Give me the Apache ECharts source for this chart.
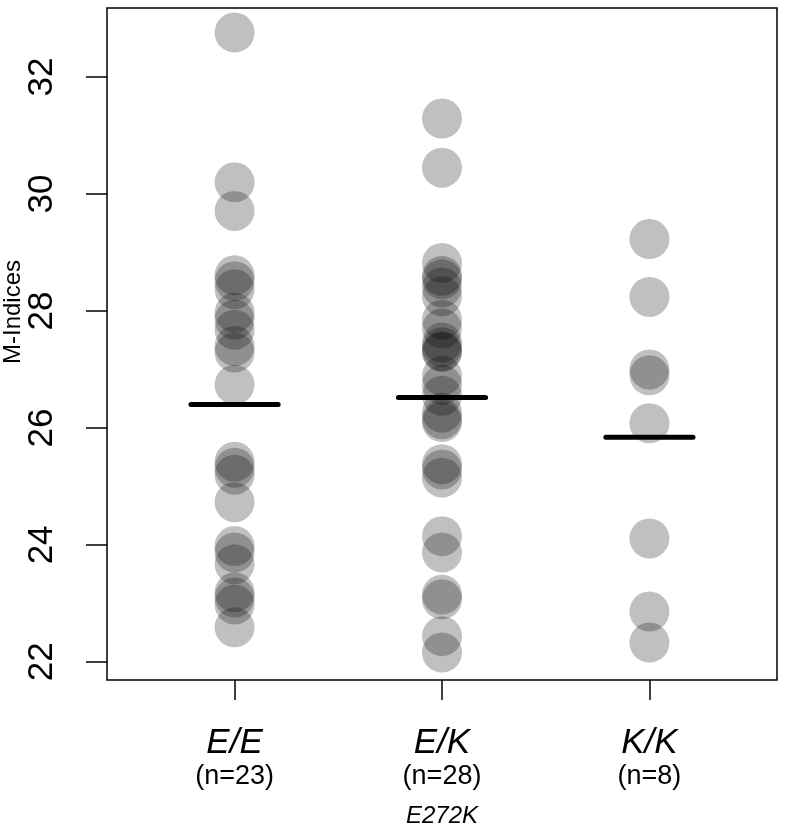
<!DOCTYPE html>
<html>
<head>
<meta charset="utf-8">
<script src="https://cdn.jsdelivr.net/npm/echarts@6/dist/echarts.min.js"></script>
<style>html,body{margin:0;padding:0;background:#fff}#c{width:785px;height:834px}</style>
</head>
<body>
<div id="c"></div>
<script>
const categories = ['E/E', 'E/K', 'K/K'];
const counts = ['(n=23)', '(n=28)', '(n=8)'];
const eeValues = [32.76, 30.20, 29.71, 28.61, 28.51, 28.37, 27.97, 27.85, 27.68, 27.40, 27.29, 26.74,
  25.42, 25.32, 25.20, 24.73, 23.98, 23.87, 23.67, 23.19, 23.10, 22.98, 22.59];
const ekValues = [31.29, 30.45, 28.82, 28.60, 28.54, 28.40, 28.25, 27.85, 27.70, 27.46, 27.38, 27.31, 27.30,
  26.89, 26.74, 26.55, 26.26, 26.15, 26.10, 25.38, 25.29, 25.15, 24.15, 23.87, 23.15, 23.07, 22.44, 22.16];
const kkValues = [29.23, 28.24, 27.00, 26.90, 26.08, 24.11, 22.86, 22.33];
const means = [26.40, 26.52, 25.84];
const yTicks = [22, 24, 26, 28, 30, 32];
const xTicks = [1, 2, 3];

const groups = [eeValues, ekValues, kkValues];
const pointData = [];
groups.forEach((vals, i) => vals.forEach(v => pointData.push([i + 1, v])));
const meanData = means.map((m, i) => [i + 1, m]);

const FONT = 'Liberation Sans, Arial, sans-serif';
const chart = echarts.init(document.getElementById('c'), null, {renderer: 'canvas'});
chart.setOption({
  animation: false,
  backgroundColor: '#fff',
  textStyle: {fontFamily: FONT, color: '#000'},
  grid: {left: 107, right: 8, top: 8, bottom: 154, show: true, borderColor: '#000', borderWidth: 1.5, backgroundColor: 'transparent'},
  xAxis: {
    type: 'value', min: 0.385, max: 3.615,
    axisLine: {show: false},
    splitLine: {show: false},
    axisTick: {show: true, customValues: xTicks, length: 20, lineStyle: {color: '#000', width: 1.5}},
    axisLabel: {
      customValues: xTicks, margin: 45, color: '#000',
      formatter: v => '{a|' + categories[v - 1] + '}\n{b|' + counts[v - 1] + '}',
      rich: {
        a: {fontSize: 35, fontStyle: 'italic', lineHeight: 36, color: '#000', fontFamily: FONT},
        b: {fontSize: 27, lineHeight: 32, color: '#000', fontFamily: FONT}
      }
    },
    name: 'E272K', nameLocation: 'middle', nameGap: 124,
    nameTextStyle: {fontSize: 24, fontStyle: 'italic', color: '#000', fontFamily: FONT}
  },
  yAxis: {
    type: 'value', min: 21.69, max: 33.18,
    axisLine: {show: false},
    splitLine: {show: false},
    axisTick: {show: true, customValues: yTicks, length: 21, lineStyle: {color: '#000', width: 1.5}},
    axisLabel: {customValues: yTicks, rotate: 90, fontSize: 35, color: '#000', margin: 47}
  },
  graphic: [{
    type: 'text', x: 13, y: 312, rotation: Math.PI / 2,
    style: {text: 'M-Indices', fontSize: 24, fill: '#000', align: 'center', verticalAlign: 'middle', fontFamily: FONT}
  }],
  series: [{
    type: 'scatter', data: pointData, symbol: 'circle', symbolSize: 40,
    itemStyle: {color: 'rgba(0,0,0,0.31)'}, z: 2
  }, {
    type: 'custom', data: meanData, z: 3,
    renderItem: (params, api) => {
      const x = api.value(0), y = api.value(1);
      const p1 = api.coord([x - 0.21, y]);
      const p2 = api.coord([x + 0.21, y]);
      return {type: 'line', shape: {x1: p1[0], y1: p1[1], x2: p2[0], y2: p2[1]},
        style: {stroke: '#000', lineWidth: 5, lineCap: 'round'}};
    }
  }]
});
</script>
</body>
</html>
